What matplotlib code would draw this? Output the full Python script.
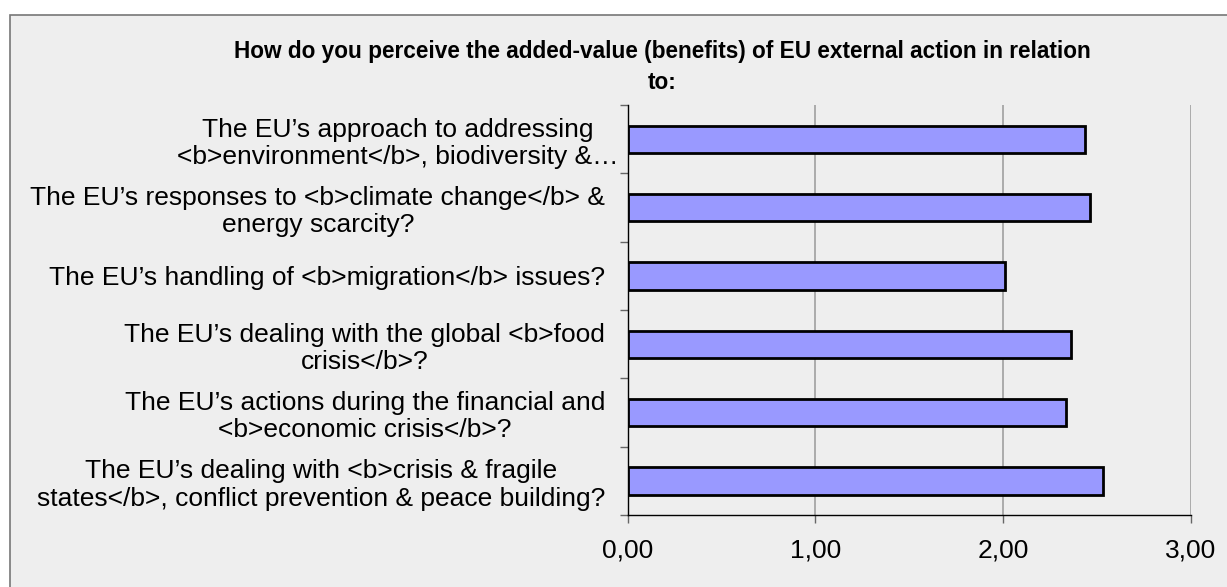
import matplotlib
matplotlib.use("Agg")
import matplotlib.pyplot as plt
from matplotlib import font_manager
from matplotlib.patches import Rectangle
from matplotlib.transforms import ScaledTranslation

plt.rcParams['font.family'] = ['Liberation Sans', 'DejaVu Sans']

categories = [
    "The EU\u2019s approach to addressing\n<b>environment</b>, biodiversity &\u2026",
    "The EU\u2019s responses to <b>climate change</b> &\nenergy scarcity?",
    "The EU\u2019s handling of <b>migration</b> issues?",
    "The EU\u2019s dealing with the global <b>food\ncrisis</b>?",
    "The EU\u2019s actions during the financial and\n<b>economic crisis</b>?",
    "The EU\u2019s dealing with <b>crisis & fragile\nstates</b>, conflict prevention & peace building?",
]
values = [2.436, 2.46, 2.01, 2.36, 2.337, 2.53]
xticks = [0, 1, 2, 3]
xtick_labels = ["0,00", "1,00", "2,00", "3,00"]
title = "How do you perceive the added-value (benefits) of EU external action in relation\nto:"

W, H = 1227, 587
fig = plt.figure(figsize=(W / 100, H / 100), dpi=100)
fig.patch.set_facecolor("white")
bg = Rectangle((10 / W, -0.01), 1.0, 1 - 15 / H + 0.01,
               transform=fig.transFigure, facecolor="#EEEEEE",
               edgecolor="#777777", linewidth=1.2, zorder=-10)
fig.add_artist(bg)

ax = fig.add_axes([627.5 / W, 1 - 515 / H, (1191 - 627.5) / W, (515 - 105) / H])
ax.set_facecolor("none")

pos = list(range(len(categories)))
ax.barh(pos, values, height=0.4, color="#9999FF", edgecolor="black",
        linewidth=2, zorder=3)
ax.set_ylim(len(categories) - 0.5, -0.5)
ax.set_xlim(0, 3)

ax.set_xticks(xticks)
ax.set_xticklabels(xtick_labels, fontsize=19)
ax.set_yticks(pos)
ax.set_yticklabels(categories, fontsize=19, multialignment="center",
                   linespacing=1.18)
ax.tick_params(axis="y", length=0, pad=16)
ax.set_yticks([p - 0.5 for p in pos] + [len(categories) - 0.5], minor=True)
ax.tick_params(axis="y", which="minor", length=5.8, width=1, color="#666666")
ax.tick_params(axis="x", length=5.8, width=1, color="#666666", pad=10.8)

ax.grid(axis="x", color="#999999", linewidth=1.1, zorder=0)
for s in ["top", "right"]:
    ax.spines[s].set_visible(False)
ax.spines["left"].set_color("black")
ax.spines["bottom"].set_color("black")
ax.spines["left"].set_linewidth(1)
ax.spines["bottom"].set_linewidth(1)

# the truncated first label sits a bit closer to the axis
first = ax.get_yticklabels()[0]
first.set_transform(first.get_transform() +
                    ScaledTranslation(13 / 100, 0, fig.dpi_scale_trans))

names = {f.name for f in font_manager.fontManager.ttflist}
if "Liberation Sans Narrow" in names:
    tfam, tsize, tls = ["Liberation Sans Narrow", "Liberation Sans"], 19.8, 1.25
else:
    tfam, tsize, tls = ["Liberation Sans", "DejaVu Sans"], 16.3, 1.44
fig.text(662 / W, 1 - 67 / H, title, ha="center", va="center",
         fontsize=tsize, fontweight="bold", linespacing=tls, family=tfam)

fig.savefig("out.png", dpi=100)
